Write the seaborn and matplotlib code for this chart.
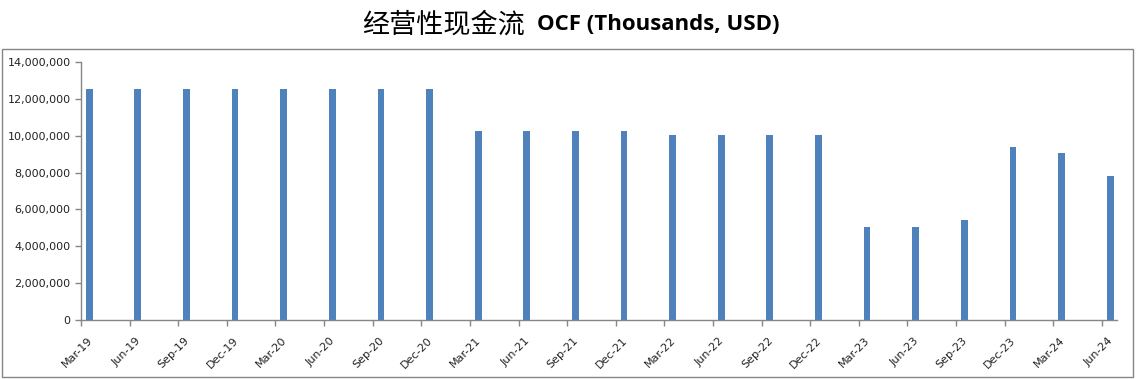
import matplotlib
matplotlib.use('Agg')
import matplotlib.pyplot as plt
import matplotlib.transforms as mtrans
import seaborn as sns
import numpy as np
import pandas as pd
from matplotlib.patches import Rectangle
from matplotlib.ticker import FuncFormatter

# 季度标签 & 经营性现金流 (千美元)
quarters = ['Mar-19', 'Jun-19', 'Sep-19', 'Dec-19', 'Mar-20', 'Jun-20', 'Sep-20', 'Dec-20',
            'Mar-21', 'Jun-21', 'Sep-21', 'Dec-21', 'Mar-22', 'Jun-22', 'Sep-22', 'Dec-22',
            'Mar-23', 'Jun-23', 'Sep-23', 'Dec-23', 'Mar-24', 'Jun-24']
ocf = [12540000, 12540000, 12540000, 12540000, 12540000, 12540000, 12540000, 12540000,
       10260000, 10260000, 10260000, 10260000, 10040000, 10040000, 10040000, 10040000,
       5050000, 5050000, 5430000, 9390000, 9060000, 7810000]

df = pd.DataFrame({'quarter': quarters, 'ocf': ocf})

sns.set_style('white')
plt.rcParams['font.family'] = ['DejaVu Sans']

fig = plt.figure(figsize=(11.37, 3.79), dpi=100)
ax = fig.add_axes([0.0712, 0.1557, 0.9112, 0.6807])

sns.barplot(data=df, x='quarter', y='ocf', order=quarters, color='#4F81BD',
            width=0.14, saturation=1, linewidth=0, ax=ax)

# Excel 日期轴: 刻度在柱子左侧一点
shift = 0.17
n = len(quarters)
ax.set_xticks(np.arange(n) - shift)
ax.set_xticklabels(quarters, rotation=45, ha='right', va='top',
                   rotation_mode='anchor', fontsize=8, color='#222222')
ax.set_xlim(-shift, n - 1 - shift + 0.31)
ax.set_ylim(0, 14000000)
ax.set_yticks(np.arange(0, 14000001, 2000000))
ax.yaxis.set_major_formatter(FuncFormatter(lambda v, p: f'{int(v):,}'))
ax.tick_params(axis='y', labelsize=8, labelcolor='#222222')
ax.tick_params(axis='both', direction='out', length=4, width=1, color='#868686',
               left=True, bottom=True)
# tick_params 会重置变换, 所以放在后面
offset = mtrans.ScaledTranslation(0.06, -0.05, fig.dpi_scale_trans)
for lbl in ax.get_xticklabels():
    lbl.set_transform(lbl.get_transform() + offset)
ax.set_xlabel('')
ax.set_ylabel('')
for s in ['top', 'right']:
    ax.spines[s].set_visible(False)
for s in ['left', 'bottom']:
    ax.spines[s].set_color('#868686')
    ax.spines[s].set_linewidth(1)

# 图表外框
fig.patches.append(Rectangle((0.0015, 0.006), 0.995, 0.866, transform=fig.transFigure,
                             fill=False, edgecolor='#868686', linewidth=1))

# 标题: 中文常规 + 英文加粗
fig.text(0.4617, 0.935, '经营性现金流', ha='right', va='center', fontsize=19.5,
         color='black', family=['Noto Sans CJK SC', 'DejaVu Sans'])
fig.text(0.4723, 0.935, 'OCF (Thousands, USD)', ha='left', va='center', fontsize=16,
         color='black', fontweight='bold', family=['Open Sans', 'DejaVu Sans'])

fig.savefig('out.png', dpi=100)
